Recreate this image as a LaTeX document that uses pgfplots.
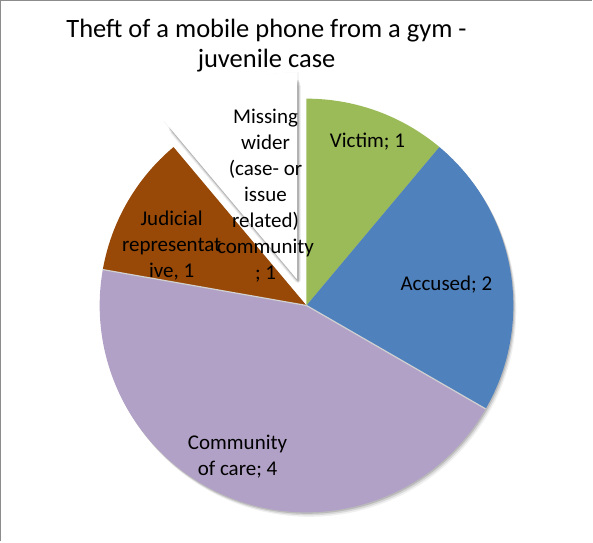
\documentclass[border=0pt]{standalone}
\usepackage{pgfplots}
\pgfplotsset{compat=1.18}
\usepackage{pgfplotstable}
\usepackage{fontspec}
\setmainfont{Carlito}
\definecolor{cVictim}{HTML}{9BBB59}
\definecolor{cAccused}{HTML}{4F81BD}
\definecolor{cCommunity}{HTML}{B2A1C7}
\definecolor{cJudicial}{HTML}{984807}
\definecolor{cMissing}{HTML}{FFFFFF}

\pgfplotstableread[col sep=comma]{
label,value
Victim,1
Accused,2
Community of care,4
Judicial representative,1
Missing wider community,1
}\piedata

% compute angles (clockwise from 90 degrees)
\pgfplotstablegetrowsof{\piedata}
\pgfmathtruncatemacro\lastrow{\pgfplotsretval-1}
\gdef\total{0}
\foreach \i in {0,...,\lastrow}{%
  \pgfplotstablegetelem{\i}{value}\of\piedata
  \pgfmathsetmacro\t{\total+\pgfplotsretval}\xdef\total{\t}}
\gdef\cur{90}
\foreach \i in {0,...,\lastrow}{%
  \pgfplotstablegetelem{\i}{value}\of\piedata
  \pgfmathsetmacro\e{\cur-\pgfplotsretval/\total*360}%
  \expandafter\xdef\csname s\i\endcsname{\cur}%
  \expandafter\xdef\csname e\i\endcsname{\e}%
  \xdef\cur{\e}}

\def\cx{307}\def\cy{236}\def\R{207}
\pgfmathsetmacro\mid{(\csname s4\endcsname+\csname e4\endcsname)/2}
\pgfmathsetmacro\ex{\cx+28*cos(\mid)}
\pgfmathsetmacro\ey{\cy+28*sin(\mid)}

\newcommand\sector[5]{% style, start, end, centre x, centre y
  \path[#1] (axis cs:#4,#5) -- ++(#2:\R pt) arc[start angle=#2, end angle=#3, radius=\R pt] -- cycle;}
\newcommand\edges[6]{% style, start, end, centre x, centre y, length
  \path[#1] ($(axis cs:#4,#5)+(#2:#6 pt)$) -- (axis cs:#4,#5) -- ++(#3:#6 pt);}
\usetikzlibrary{calc}

\begin{document}
\begin{tikzpicture}
\begin{axis}[scale only axis, width=593pt, height=545pt,
  xmin=0, xmax=593, ymin=0, ymax=545, axis lines=none, clip=false]
% frame
\draw[black!45, line width=1.5pt] (axis cs:1,0) -- (axis cs:1,541) -- (axis cs:593,541);
% soft shadows
\sector{fill=black, opacity=0.06}{\csname s0\endcsname}{\csname e3\endcsname}{\cx+3}{\cy-4.5}
\sector{fill=black, opacity=0.10}{\csname s0\endcsname}{\csname e3\endcsname}{\cx+2}{\cy-3}
\sector{fill=black, opacity=0.14}{\csname s0\endcsname}{\csname e3\endcsname}{\cx+1}{\cy-1.5}
% slices
\sector{fill=cVictim}{\csname s0\endcsname}{\csname e0\endcsname}{\cx}{\cy}
\sector{fill=cAccused}{\csname s1\endcsname}{\csname e1\endcsname}{\cx}{\cy}
\sector{fill=cCommunity}{\csname s2\endcsname}{\csname e2\endcsname}{\cx}{\cy}
\sector{fill=cJudicial}{\csname s3\endcsname}{\csname e3\endcsname}{\cx}{\cy}
\draw[black!18, line width=1.2pt] (axis cs:\cx,\cy) -- ++(\csname s2\endcsname:\R pt);
\draw[black!18, line width=1.2pt] (axis cs:\cx,\cy) -- ++(\csname e2\endcsname:\R pt);
% exploded slice with soft halo on its straight edges
\sector{draw=black, draw opacity=0.04, line width=2pt}{\csname s4\endcsname}{\csname e4\endcsname}{\ex+1}{\ey-1}
\edges{draw=black, draw opacity=0.06, line width=6pt, line join=round}{\csname s4\endcsname}{\csname e4\endcsname}{\ex+1}{\ey-1}{195}
\edges{draw=black, draw opacity=0.10, line width=4pt, line join=round}{\csname s4\endcsname}{\csname e4\endcsname}{\ex+1}{\ey-1}{198}
\edges{draw=black, draw opacity=0.14, line width=2pt, line join=round}{\csname s4\endcsname}{\csname e4\endcsname}{\ex+1}{\ey-1}{200}
\sector{fill=cMissing}{\csname s4\endcsname}{\csname e4\endcsname}{\ex}{\ey}
% labels
\node[align=center, font=\fontsize{26.5}{30}\selectfont] at (axis cs:267,496) {Theft of a mobile phone from a gym -\\juvenile case};
\node[align=center, font=\fontsize{21}{26}\selectfont] at (axis cs:368,400) {Victim; 1};
\node[align=center, font=\fontsize{21}{26}\selectfont] at (axis cs:447,257) {Accused; 2};
\node[align=center, font=\fontsize{21}{26}\selectfont] at (axis cs:238,85) {Community\\of care; 4};
\node[align=center, font=\fontsize{21}{26}\selectfont] at (axis cs:172,296) {Judicial\\representat\\ive, 1};
\node[align=center, font=\fontsize{21}{26}\selectfont] at (axis cs:266,346) {Missing\\wider\\(case- or\\issue\\related)\\community\\; 1};
\end{axis}
\end{tikzpicture}
\end{document}
